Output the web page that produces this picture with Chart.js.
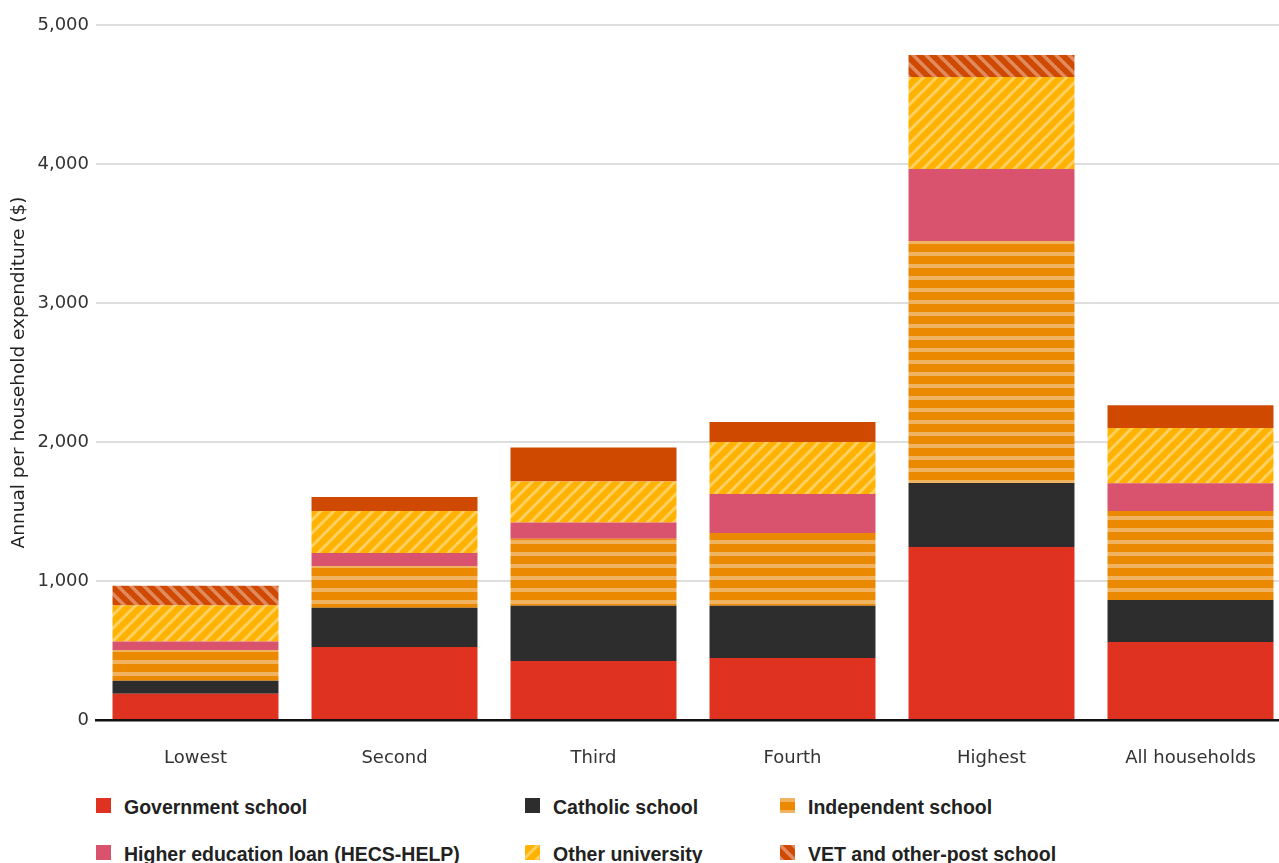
<!DOCTYPE html>
<html>
<head>
<meta charset="utf-8">
<title>Annual per household education expenditure</title>
<script src="https://cdn.jsdelivr.net/npm/chart.js@4.4.0/dist/chart.umd.min.js"></script>
<style>
  html, body { margin: 0; padding: 0; background: #fff; width: 1279px; height: 863px; overflow: hidden; }
  #wrap { position: absolute; left: 0; top: 0; width: 1300px; height: 780px; }
  .key { position: absolute; height: 22px; font-family: "Liberation Sans", Arial, sans-serif; font-weight: bold;
         font-size: 19.5px; line-height: 22px; color: #222; white-space: nowrap; }
  .key canvas { position: absolute; left: 0; top: 2px; }
  .key span { position: absolute; left: 28px; top: 0; }
</style>
</head>
<body>
<div id="wrap"><canvas id="chart" width="1300" height="780"></canvas></div>
<div id="legend"></div>
<script>
// Income quintiles and annual spending per household ($), by education type
const categories = ['Lowest', 'Second', 'Third', 'Fourth', 'Highest', 'All households'];
const government  = [189, 525, 424, 446, 1245, 561];
const catholic    = [94, 283, 398, 376, 460, 302];
const independent = [221, 300, 482, 523, 1741, 640];
const hecsHelp    = [60, 94, 117, 281, 518, 201];
const otherUni    = [259, 302, 295, 374, 662, 396];
const vetOther    = [142, 101, 245, 144, 158, 165];
const yTicks      = [0, 1000, 2000, 3000, 4000, 5000];

// Fill patterns
function hStripes(base, light, period, width) {
  const c = document.createElement('canvas');
  c.width = 8; c.height = period;
  const g = c.getContext('2d');
  g.fillStyle = base; g.fillRect(0, 0, 8, period);
  g.fillStyle = light; g.fillRect(0, 0, 8, width);
  return c;
}
function diagStripes(base, light, period, width, rising) {
  const c = document.createElement('canvas');
  c.width = period; c.height = period;
  const g = c.getContext('2d');
  const P = period;
  g.fillStyle = base; g.fillRect(0, 0, P, P);
  g.strokeStyle = light; g.lineWidth = width; g.lineCap = 'square';
  g.beginPath();
  if (rising) {
    g.moveTo(-2, P + 2); g.lineTo(P + 2, -2);
    g.moveTo(-2, 2); g.lineTo(2, -2);
    g.moveTo(P - 2, P + 2); g.lineTo(P + 2, P - 2);
  } else {
    g.moveTo(-2, -2); g.lineTo(P + 2, P + 2);
    g.moveTo(-2, P - 2); g.lineTo(2, P + 2);
    g.moveTo(P - 2, -2); g.lineTo(P + 2, 2);
  }
  g.stroke();
  return c;
}

const canvas = document.getElementById('chart');
const ctx = canvas.getContext('2d');

const tiles = {
  independent: hStripes('#eb8a00', '#f0b35f', 12, 4),
  otherUni: diagStripes('#ffb300', '#ffd062', 13, 3, true),
  vet: diagStripes('#cf4a00', '#e08a5e', 13, 3.5, false)
};
const fills = {
  government: '#df3220',
  catholic: '#2d2d2d',
  independent: ctx.createPattern(tiles.independent, 'repeat'),
  hecs: '#d9536e',
  otherUni: ctx.createPattern(tiles.otherUni, 'repeat'),
  vetSolid: '#cf4a00',
  vetHatch: ctx.createPattern(tiles.vet, 'repeat')
};
const vetFill = [fills.vetHatch, fills.vetSolid, fills.vetSolid, fills.vetSolid, fills.vetHatch, fills.vetSolid];

const series = [
  { label: 'Government school', data: government, backgroundColor: fills.government, tile: null, color: fills.government },
  { label: 'Catholic school', data: catholic, backgroundColor: fills.catholic, tile: null, color: fills.catholic },
  { label: 'Independent school', data: independent, backgroundColor: fills.independent, tile: tiles.independent },
  { label: 'Higher education loan (HECS-HELP)', data: hecsHelp, backgroundColor: fills.hecs, tile: null, color: fills.hecs },
  { label: 'Other university', data: otherUni, backgroundColor: fills.otherUni, tile: tiles.otherUni },
  { label: 'VET and other-post school', data: vetOther, backgroundColor: vetFill, tile: tiles.vet }
];

const tickFont = { family: '"DejaVu Sans", sans-serif', size: 18 };

new Chart(ctx, {
  type: 'bar',
  data: {
    labels: categories,
    datasets: series.map(s => ({ label: s.label, data: s.data, backgroundColor: s.backgroundColor, borderWidth: 0 }))
  },
  options: {
    responsive: false,
    animation: false,
    layout: { padding: { top: 25, right: 10, bottom: 0, left: 0 } },
    plugins: { legend: { display: false }, tooltip: { enabled: false } },
    datasets: { bar: { barPercentage: 0.834, categoryPercentage: 1 } },
    scales: {
      x: {
        stacked: true,
        z: 1,
        grid: { display: false, drawTicks: false },
        border: { display: true, color: '#111', width: 2.5 },
        ticks: { color: '#333', font: tickFont, padding: 28, maxRotation: 0 },
        afterFit(scale) { scale.height = 60; }
      },
      y: {
        stacked: true,
        min: yTicks[0],
        max: yTicks[yTicks.length - 1],
        afterBuildTicks(scale) { scale.ticks = yTicks.map(v => ({ value: v })); },
        grid: { color: '#dedede', lineWidth: 2, drawTicks: false },
        border: { display: false },
        ticks: {
          color: '#333', font: tickFont, padding: 7,
          callback: v => v.toLocaleString('en-US')
        },
        title: {
          display: true,
          text: 'Annual per household expenditure ($)',
          color: '#222',
          font: { family: '"DejaVu Sans", sans-serif', size: 18.5 },
          padding: { top: 8, bottom: 0 }
        },
        afterFit(scale) { scale.width = 96; }
      }
    }
  }
});

// Legend: two rows of three keys
const keyCols = [96, 525, 780];
const keyRows = [796, 843];
const legend = document.getElementById('legend');
series.forEach((s, i) => {
  const item = document.createElement('div');
  item.className = 'key';
  item.style.left = keyCols[i % 3] + 'px';
  item.style.top = keyRows[Math.floor(i / 3)] + 'px';
  const sw = document.createElement('canvas');
  sw.width = 15; sw.height = 15;
  const g = sw.getContext('2d');
  g.fillStyle = s.tile ? g.createPattern(s.tile, 'repeat') : s.color;
  g.fillRect(0, 0, 15, 15);
  const txt = document.createElement('span');
  txt.textContent = s.label;
  item.appendChild(sw);
  item.appendChild(txt);
  legend.appendChild(item);
});
</script>
</body>
</html>
